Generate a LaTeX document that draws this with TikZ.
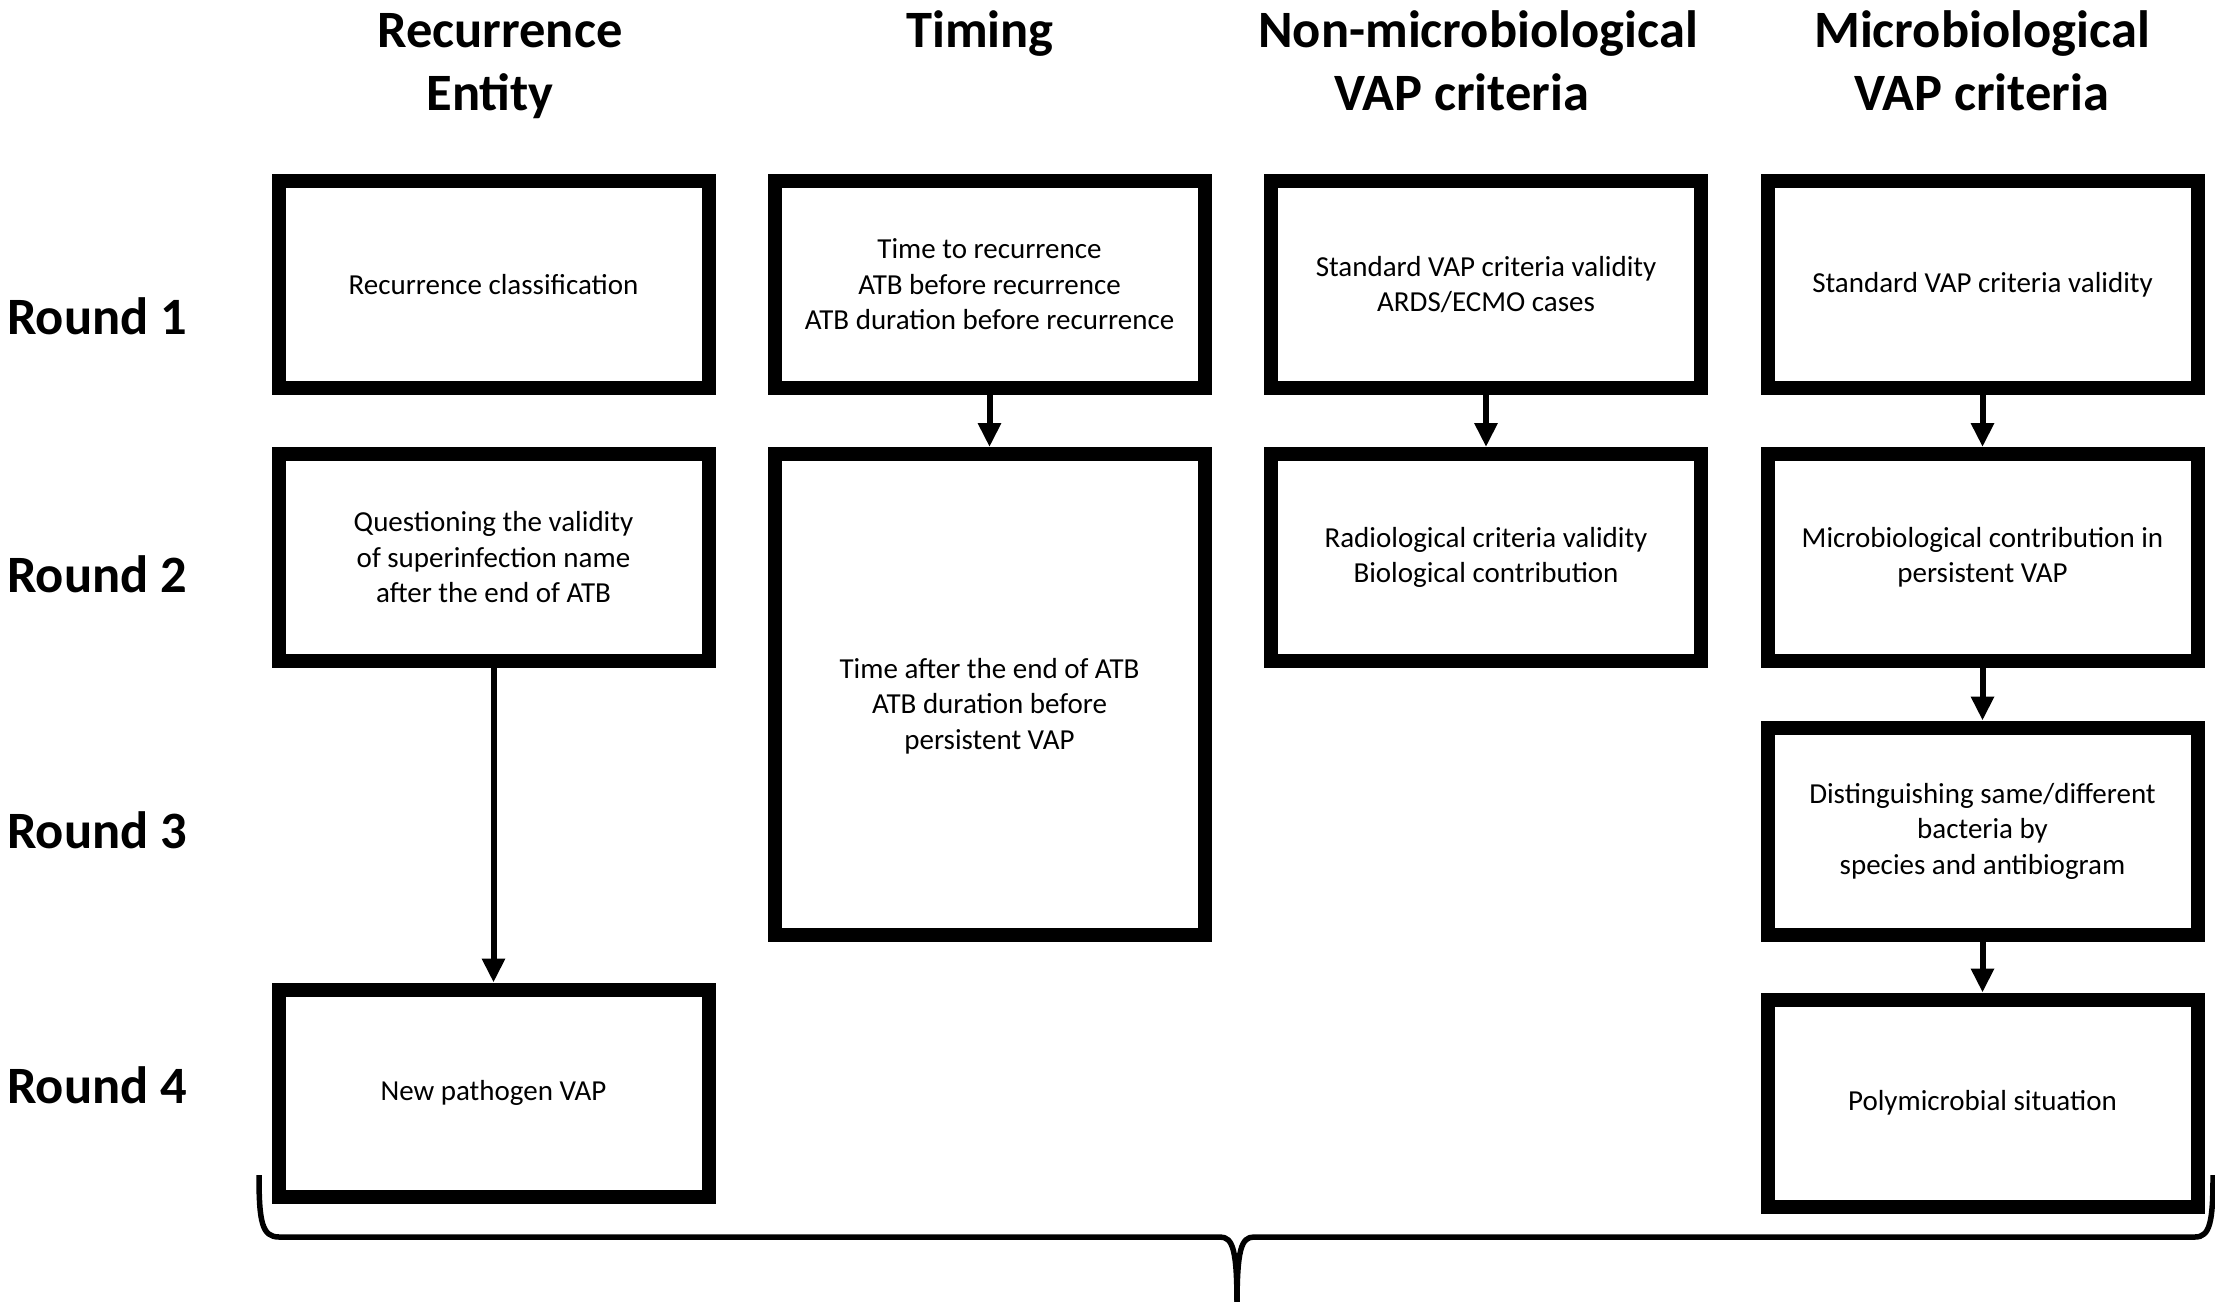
\documentclass[tikz,border=0pt]{standalone}
\usepackage{fontspec}
\setmainfont{Carlito}
\usetikzlibrary{arrows.meta}

\begin{document}
\begin{tikzpicture}[x=1pt,y=-1pt,
  stage/.style={draw=black, line width=14pt, fill=white,
    minimum width=430pt, minimum height=207pt, inner sep=0pt,
    align=center, font=\fontsize{29}{35.5}\selectfont},
  stagetext/.style={inner sep=0pt, align=center, font=\fontsize{29}{35.5}\selectfont},
  head/.style={font=\bfseries\fontsize{52.5}{63}\selectfont, anchor=base, inner sep=0pt},
  roundlbl/.style={font=\bfseries\fontsize{52.5}{63}\selectfont, anchor=base west, inner sep=0pt},
  flow/.style={line width=6pt, -{Triangle[width=22pt,length=24pt]}},
  bracket/.style={line width=5.5pt, line join=round}
]
\useasboundingbox (0,0) rectangle (2215,1301);

% column headings
\node[head] (hRE) at (500,47)
  {\begin{tabular}[t]{@{}c@{}}Recurrence\\Entity\kern20pt\end{tabular}};
\node[head] (hTI) at (980,47) {Timing};
\node[head] (hNM) at (1478,47)
  {\begin{tabular}[t]{@{}c@{}}Non-microbiological\\VAP criteria\kern32pt\end{tabular}};
\node[head] (hMI) at (1982,47)
  {\begin{tabular}[t]{@{}c@{}}Microbiological\\VAP criteria\end{tabular}};

% round labels
\node[roundlbl] (r1) at (7,334) {Round 1};
\node[roundlbl] (r2) at (7,592) {Round 2};
\node[roundlbl] (r3) at (7,848) {Round 3};
\node[roundlbl] (r4) at (7,1103) {Round 4};

% recurrence entity
\node[stage] (re1) at (493.5,284.5) {Recurrence classification};
\node[stage] (re2) at (493.5,557.5) {Questioning the validity\\of superinfection name\\after the end of ATB};
\node[stage] (re4) at (493.5,1093) {New pathogen VAP};

% timing
\node[stage] (ti1) at (989.5,284.5) {Time to recurrence\\ATB before recurrence\\ATB duration before recurrence};
\node[stage, minimum height=481pt] (ti2) at (989.5,694.5) {};
\node[stagetext] (ti2t) at (989.5,706) {Time after the end of ATB\\ATB duration before\\persistent VAP};

% non-microbiological criteria
\node[stage] (nm1) at (1486,284.5) {Standard VAP criteria validity\\ARDS/ECMO cases};
\node[stage] (nm2) at (1486,557.5) {Radiological criteria validity\\Biological contribution};

% microbiological criteria
\node[stage] (mi1) at (1982.5,284.5) {Standard VAP criteria validity};
\node[stage] (mi2) at (1982.5,557.5) {Microbiological contribution in\\persistent VAP};
\node[stage] (mi3) at (1982.5,831) {Distinguishing same/different\\bacteria by\\species and antibiogram};
\node[stage] (mi4) at (1982.5,1103) {Polymicrobial situation};

% connectors
\draw[flow] (re2) -- (re4);
\draw[flow] (ti1) -- (ti2);
\draw[flow] (nm1) -- (nm2);
\draw[flow] (mi1) -- (mi2);
\draw[flow] (mi2) -- (mi3);
\draw[flow] (mi3) -- (mi4);

% bracket under the rows
\coordinate (bl) at (259,1175);
\coordinate (br) at (2213,1175);
\coordinate (bt) at (1237,1306);
\draw[bracket] (bl) .. controls (259,1222) and (262,1237) .. (279,1237)
  -- (1220,1237) .. controls (1233,1237) and (1237,1250) .. (bt);
\draw[bracket] (br) .. controls (2213,1222) and (2210,1237) .. (2195,1237)
  -- (1254,1237) .. controls (1241,1237) and (1237,1250) .. (bt);
\end{tikzpicture}
\end{document}
